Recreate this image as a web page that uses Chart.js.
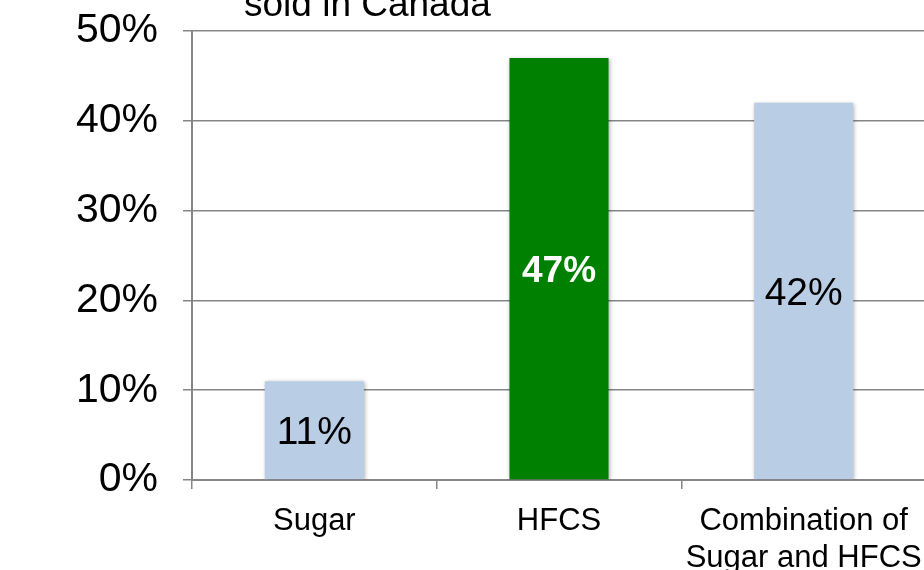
<!DOCTYPE html>
<html lang="en">
<head>
<meta charset="UTF-8">
<title>Sweeteners sold in Canada</title>
<script src="https://cdn.jsdelivr.net/npm/chart.js"></script>
<style>
  html, body { margin: 0; padding: 0; background: #fff; overflow: hidden; }
  #wrap { width: 960px; height: 570px; position: relative; }
</style>
</head>
<body>
<div id="wrap"><canvas id="barChart"></canvas></div>
<script>
const categories = ['Sugar', 'HFCS', ['Combination of', 'Sugar and HFCS']];
const shares = [11, 47, 42];
const barColors = ['#b9cde5', '#008000', '#b9cde5'];
const labelColors = ['#000000', '#ffffff', '#000000'];
const labelBold = [false, true, false];
const yTickStep = 10;
const yMax = 50;
const titleText = 'sold in Canada';

const FONT = '"Liberation Sans", Arial, sans-serif';
const GRID = '#868686';

// partial title line, clipped at the top of the canvas like the original
const titlePlugin = {
    id: 'cutTitle',
    afterDraw(chart) {
        const { ctx, chartArea } = chart;
        ctx.save();
        ctx.font = '37px ' + FONT;
        ctx.fillStyle = '#000';
        ctx.textAlign = 'left';
        ctx.textBaseline = 'alphabetic';
        ctx.fillText(titleText, chartArea.left + 52, chartArea.top - 15);
        ctx.restore();
    }
};

// value labels in the middle of each bar
const valueLabels = {
    id: 'valueLabels',
    afterDatasetsDraw(chart) {
        const { ctx } = chart;
        const meta = chart.getDatasetMeta(0);
        ctx.save();
        ctx.textAlign = 'center';
        ctx.textBaseline = 'middle';
        meta.data.forEach((bar, i) => {
            ctx.font = (labelBold[i] ? 'bold 37px ' : '39px ') + FONT;
            ctx.fillStyle = labelColors[i];
            ctx.fillText(shares[i] + '%', bar.x, (bar.y + bar.base) / 2 + 3);
        });
        ctx.restore();
    }
};

// soft shadow under the bars
const barShadow = {
    id: 'barShadow',
    beforeDatasetsDraw(chart) {
        const ctx = chart.ctx;
        ctx.save();
        ctx.shadowColor = 'rgba(0,0,0,0.3)';
        ctx.shadowBlur = 4;
        ctx.shadowOffsetX = 1;
        ctx.shadowOffsetY = 1;
    },
    afterDatasetsDraw(chart) {
        chart.ctx.restore();
    }
};

const ctx = document.getElementById('barChart').getContext('2d');
new Chart(ctx, {
    type: 'bar',
    data: {
        labels: categories,
        datasets: [{
            data: shares,
            backgroundColor: barColors,
            borderWidth: 0,
            categoryPercentage: 1,
            barPercentage: 0.405
        }]
    },
    options: {
        responsive: true,
        maintainAspectRatio: false,
        animation: false,
        devicePixelRatio: 1,
        layout: { padding: { top: 31, right: 34, left: 0, bottom: 0 } },
        plugins: {
            legend: { display: false },
            tooltip: { enabled: false },
            title: { display: false }
        },
        scales: {
            x: {
                offset: true,
                grid: {
                    display: true,
                    drawOnChartArea: false,
                    drawTicks: true,
                    tickLength: 9,
                    color: GRID,
                    lineWidth: 1.5,
                    offset: true
                },
                border: { color: GRID, width: 2 },
                ticks: {
                    color: '#000',
                    font: { family: FONT, size: 31 },
                    padding: 14,
                    maxRotation: 0,
                    autoSkip: false
                },
                afterFit(scale) { scale.height = 90; }
            },
            y: {
                min: 0,
                max: yMax,
                ticks: {
                    stepSize: yTickStep,
                    color: '#000',
                    font: { family: FONT, size: 41 },
                    padding: 25,
                    callback: v => v + '%'
                },
                grid: {
                    color: GRID,
                    lineWidth: 1.5,
                    tickLength: 9
                },
                border: { color: GRID, width: 2 },
                afterFit(scale) {
                    scale.width = 192;
                    scale.paddingTop = 0;
                    scale.paddingBottom = 0;
                }
            }
        }
    },
    plugins: [barShadow, valueLabels, titlePlugin]
});
</script>
</body>
</html>
